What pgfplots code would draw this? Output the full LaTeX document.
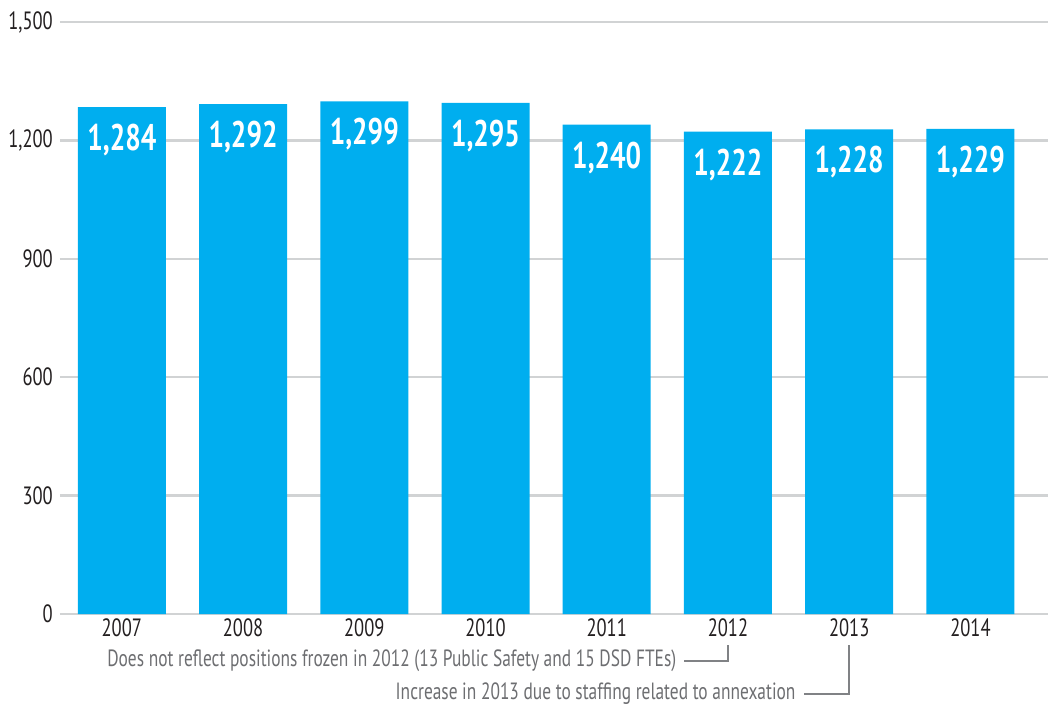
\documentclass[border=0pt]{standalone}
\usepackage{fontspec}
\setmainfont[FakeStretch=0.74]{PT Sans}
\usepackage{pgfplots}
\pgfplotsset{compat=1.18}
\definecolor{barblue}{HTML}{00AEEF}
\definecolor{gridgray}{HTML}{D1D3D4}
\definecolor{textdark}{HTML}{231F20}
\definecolor{annogray}{HTML}{6D6E71}
\definecolor{linegray}{HTML}{808285}
\begin{document}
\begin{tikzpicture}
\useasboundingbox (-60pt,-92pt) rectangle (988pt,614pt);
\begin{axis}[
  at={(0,0)}, anchor=south west,
  scale only axis, width=988pt, height=592pt,
  xmin=-0.51, xmax=7.64, ymin=0, ymax=1500,
  ybar, bar width=88pt, bar shift=0pt,
  xtick=data, xticklabels={2007,2008,2009,2010,2011,2012,2013,2014},
  ytick={0,300,600,900,1200,1500},
  ymajorgrids, grid style={color=gridgray, line width=2.5pt},
  axis line style={draw=none}, major tick length=0pt, tick style={draw=none},
  /pgf/number format/.cd, 1000 sep={,}, assume math mode=true, /pgfplots/.cd,
  yticklabel style={font=\fontsize{25}{25}\selectfont, text=textdark, anchor=east, inner sep=0pt, xshift=-7pt},
  xticklabel style={font=\fontsize{25}{25}\selectfont, text=textdark, anchor=north, inner sep=0pt, yshift=-4pt},
  nodes near coords={\pgfmathprintnumber[assume math mode=true, 1000 sep={,}]{\pgfplotspointmeta}},
  every node near coord/.append style={font=\bfseries\fontsize{37}{37}\selectfont, text=white, anchor=north, inner sep=0pt, yshift=-17pt},
  clip=false,
]
\addplot[fill=barblue, draw=none] coordinates {
  (0,1284) (1,1292) (2,1299) (3,1295) (4,1240) (5,1222) (6,1228) (7,1229)
};
\coordinate (c12) at (axis cs:5,0);
\coordinate (c13) at (axis cs:6,0);
\end{axis}
\draw[linegray, line width=1.4pt] ([yshift=-31pt]c12) -- ([yshift=-47pt]c12) -- ([yshift=-47pt,xshift=-44pt]c12)
  node[left, inner sep=0pt, xshift=-7pt, text=annogray, font=\fontsize{23.5}{23.5}\selectfont] {Does not reflect positions frozen in 2012 (13 Public Safety and 15 DSD FTEs)};
\draw[linegray, line width=1.4pt] ([yshift=-31pt]c13) -- ([yshift=-80pt]c13) -- ([yshift=-80pt,xshift=-45pt]c13)
  node[left, inner sep=0pt, xshift=-8pt, text=annogray, font=\fontsize{23.5}{23.5}\selectfont] {Increase in 2013 due to staffing related to annexation};
\end{tikzpicture}
\end{document}
